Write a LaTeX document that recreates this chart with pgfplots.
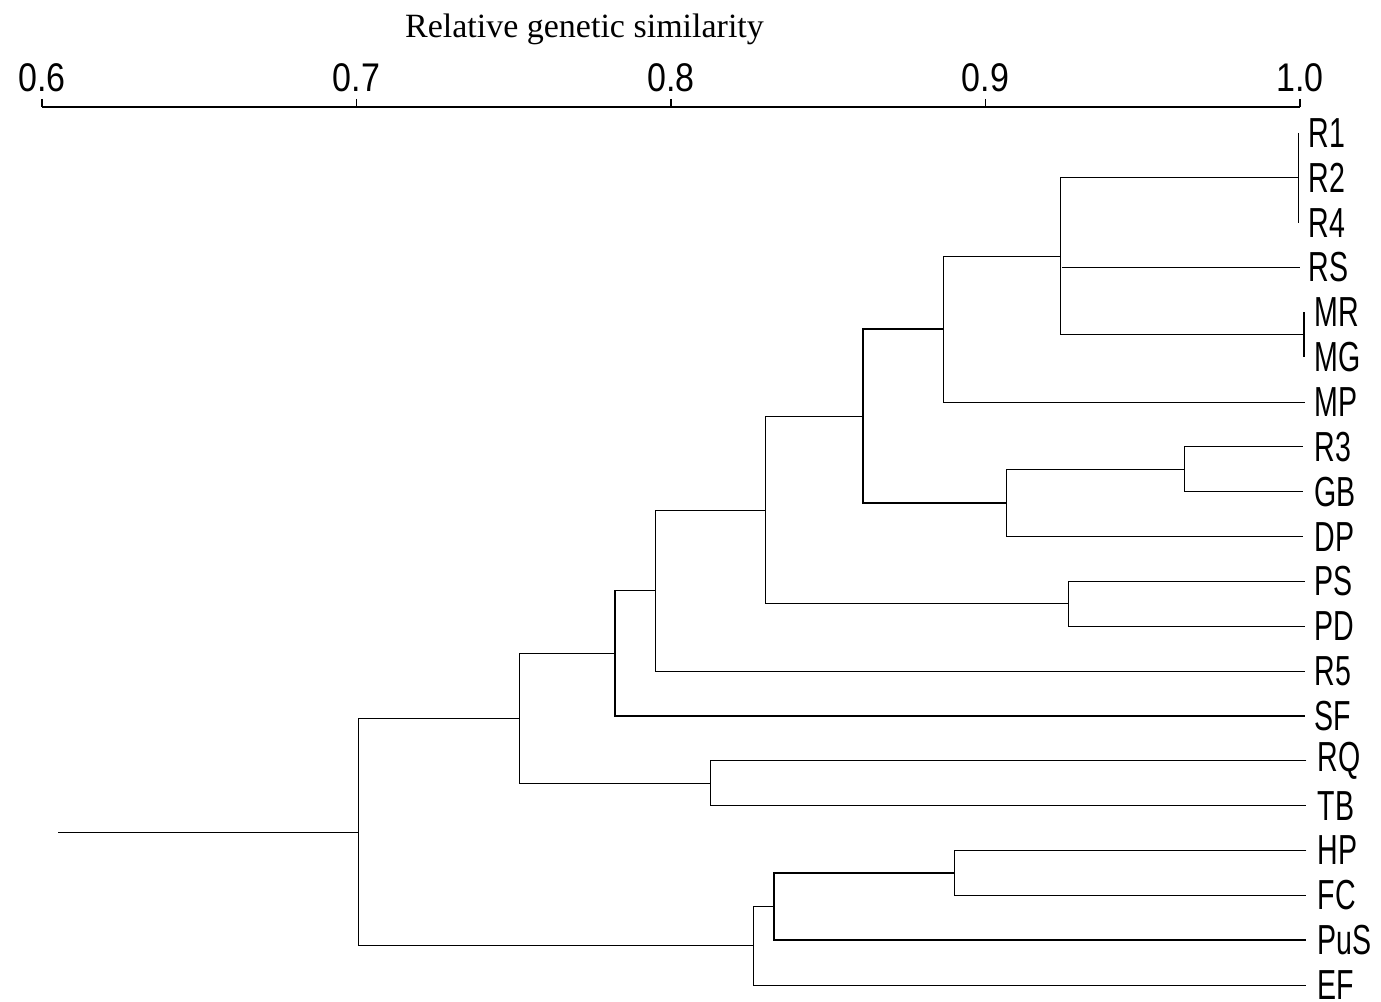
\documentclass[border=0pt]{standalone}
\usepackage{fontspec}
\setmainfont{Liberation Serif}
\newfontfamily\plotfont[FakeStretch=0.68]{Liberation Sans}
\newfontfamily\tickfont[FakeStretch=0.85]{Liberation Sans}
\usepackage{pgfplots}
\pgfplotsset{compat=1.18}
\begin{document}
\begin{tikzpicture}
\begin{axis}[
  scale only axis,
  width=629pt, height=447.3pt,
  xmin=0.6, xmax=1.0, ymin=-20.37, ymax=-0.42,
  axis x line*=top, axis y line=none,
  axis line style={-, line width=0.9pt},
  xtick={0.6,0.7,0.8,0.9,1.0},
  xticklabels={0.6,0.7,0.8,0.9,1.0},
  tick align=outside, major tick length=4pt,
  every tick/.style={black, line width=0.8pt},
  xticklabel style={font=\tickfont\fontsize{20}{24}\selectfont, yshift=0pt},
  clip=false,
  cycle list={{black, solid, mark=none, line width=0.8pt}},
]
% leaf clusters
\addplot coordinates {(0.9995,-1) (0.9995,-3)};
\addplot coordinates {(0.9995,-2) (0.9237,-2) (0.9237,-5.5) (1.0012,-5.5)};
\addplot coordinates {(0.9243,-4) (1.0,-4)};
\addplot coordinates {(1.0012,-5) (1.0012,-6)};
\addplot coordinates {(0.9237,-3.75) (0.8865,-3.75) (0.8865,-7) (1.0017,-7)};
\addplot coordinates {(1.0008,-8) (0.9634,-8) (0.9634,-9) (1.0008,-9)};
\addplot coordinates {(0.9634,-8.5) (0.9065,-8.5) (0.9065,-10) (1.001,-10)};
\addplot coordinates {(0.8865,-5.375) (0.8611,-5.375) (0.8611,-9.25) (0.9065,-9.25)};
\addplot coordinates {(1.0015,-11) (0.9263,-11) (0.9263,-12) (1.0015,-12)};
\addplot coordinates {(0.8611,-7.3125) (0.8299,-7.3125) (0.8299,-11.5) (0.9263,-11.5)};
\addplot coordinates {(0.8299,-9.406) (0.7949,-9.406) (0.7949,-13) (1.0015,-13)};
\addplot coordinates {(0.7949,-11.2) (0.7822,-11.2) (0.7822,-14) (1.0015,-14)};
\addplot coordinates {(1.002,-15) (0.8124,-15) (0.8124,-16) (1.002,-16)};
\addplot coordinates {(0.7822,-12.6) (0.7517,-12.6) (0.7517,-15.5) (0.8124,-15.5)};
\addplot coordinates {(1.002,-17) (0.8900,-17) (0.8900,-18) (1.002,-18)};
\addplot coordinates {(0.8900,-17.5) (0.8327,-17.5) (0.8327,-19) (1.002,-19)};
\addplot coordinates {(0.8327,-18.25) (0.8261,-18.25) (0.8261,-20) (1.002,-20)};
\addplot coordinates {(0.7517,-14.05) (0.7005,-14.05) (0.7005,-19.125) (0.8261,-19.125)};
\addplot coordinates {(0.7005,-16.59) (0.6051,-16.59)};
% leaf labels
\begin{scope}[every node/.style={anchor=west, inner sep=0pt, xshift=4pt, font=\plotfont\fontsize{21}{24}\selectfont}]
\node at (axis cs:1.0,-1) {R1};
\node at (axis cs:1.0,-2) {R2};
\node at (axis cs:1.0,-3) {R4};
\node at (axis cs:1.0,-4) {RS};
\node at (axis cs:1.002,-5) {MR};
\node at (axis cs:1.002,-6) {MG};
\node at (axis cs:1.002,-7) {MP};
\node at (axis cs:1.002,-8) {R3};
\node at (axis cs:1.002,-9) {GB};
\node at (axis cs:1.002,-10) {DP};
\node at (axis cs:1.002,-11) {PS};
\node at (axis cs:1.002,-12) {PD};
\node at (axis cs:1.002,-13) {R5};
\node at (axis cs:1.002,-14) {SF};
\node at (axis cs:1.003,-15) {RQ};
\node at (axis cs:1.003,-16) {TB};
\node at (axis cs:1.003,-17) {HP};
\node at (axis cs:1.003,-18) {FC};
\node at (axis cs:1.003,-19) {PuS};
\node at (axis cs:1.003,-20) {EF};
\end{scope}
\node[anchor=base, inner sep=0pt, font=\fontsize{17}{20}\selectfont] at (axis cs:0.7725,1.119) {Relative genetic similarity};
\coordinate (bbl) at (axis cs:0.58665,-20.357);
\coordinate (btr) at (axis cs:1.02576,1.966);
\end{axis}
\pgfresetboundingbox
\path[use as bounding box] (bbl) rectangle (btr);
\end{tikzpicture}
\end{document}
